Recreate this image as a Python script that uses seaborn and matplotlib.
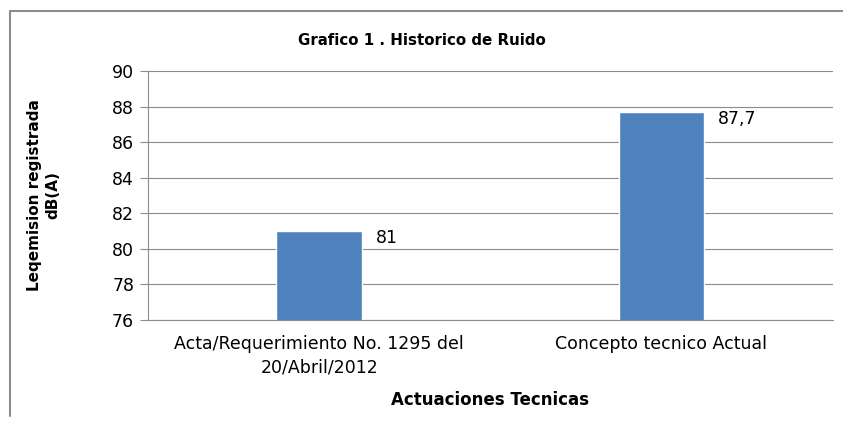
import matplotlib
matplotlib.use("Agg")
import matplotlib.pyplot as plt
import seaborn as sns
import pandas as pd
from matplotlib.lines import Line2D

categories = ["Acta/Requerimiento No. 1295 del\n20/Abril/2012", "Concepto tecnico Actual"]
values = [81, 87.7]
value_labels = ["81", "87,7"]
y_ticks = [76, 78, 80, 82, 84, 86, 88, 90]

sns.set_style("white")
plt.rcParams["font.family"] = ["DejaVu Sans"]
plt.rcParams["text.color"] = "black"
plt.rcParams["axes.labelcolor"] = "black"
plt.rcParams["xtick.labelcolor"] = "black"
plt.rcParams["ytick.labelcolor"] = "black"

df = pd.DataFrame({"actuacion": categories, "leq": values})

fig = plt.figure(figsize=(8.43, 4.29), dpi=100)
ax = fig.add_axes([0.1756, 0.254, 0.812, 0.5805])

sns.barplot(data=df, x="actuacion", y="leq", color="#4F81BD", width=0.25,
            saturation=1, ax=ax, zorder=3)

ax.set_ylim(y_ticks[0], y_ticks[-1])
ax.set_yticks(y_ticks)
ax.set_xlim(-0.5, 1.5)
ax.yaxis.grid(True, color="#8c8c8c", linewidth=0.8, zorder=0)
ax.tick_params(axis="y", left=True, length=6, width=0.8, color="#8c8c8c",
               labelsize=12.5, pad=4, labelcolor="black")
ax.tick_params(axis="x", bottom=False, labelsize=12.5, pad=7, labelcolor="black")
for t in ax.get_xticklabels():
    t.set_linespacing(1.45)
for side in ["top", "right"]:
    ax.spines[side].set_visible(False)
for side in ["left", "bottom"]:
    ax.spines[side].set_color("#8c8c8c")
    ax.spines[side].set_linewidth(0.8)

for i, (v, lab) in enumerate(zip(values, value_labels)):
    ax.annotate(lab, xy=(i + 0.125, v), xytext=(10, -5), textcoords="offset points",
                ha="left", va="center", fontsize=12.5, color="black")

ax.set_xlabel("Actuaciones Tecnicas", fontsize=12, fontweight="bold", color="black")
ax.xaxis.set_label_coords(0.5, -0.285)
ax.set_ylabel("Leqemision registrada\ndB(A)", fontsize=11, fontweight="bold",
              linespacing=1.3, color="black")
ax.yaxis.set_label_coords(-0.128, 0.5)
fig.text(0.5, 0.905, "Grafico 1 . Historico de Ruido", ha="center", va="center",
         fontsize=10.8, fontweight="bold", color="black")

# chart frame (left and top edges visible)
fig.add_artist(Line2D([0.012, 0.012], [0.03, 0.975], color="#8c8c8c", linewidth=1.5,
                      transform=fig.transFigure))
fig.add_artist(Line2D([0.012, 1.0], [0.975, 0.975], color="#8c8c8c", linewidth=1.5,
                      transform=fig.transFigure))

fig.savefig("out.png", dpi=100)
